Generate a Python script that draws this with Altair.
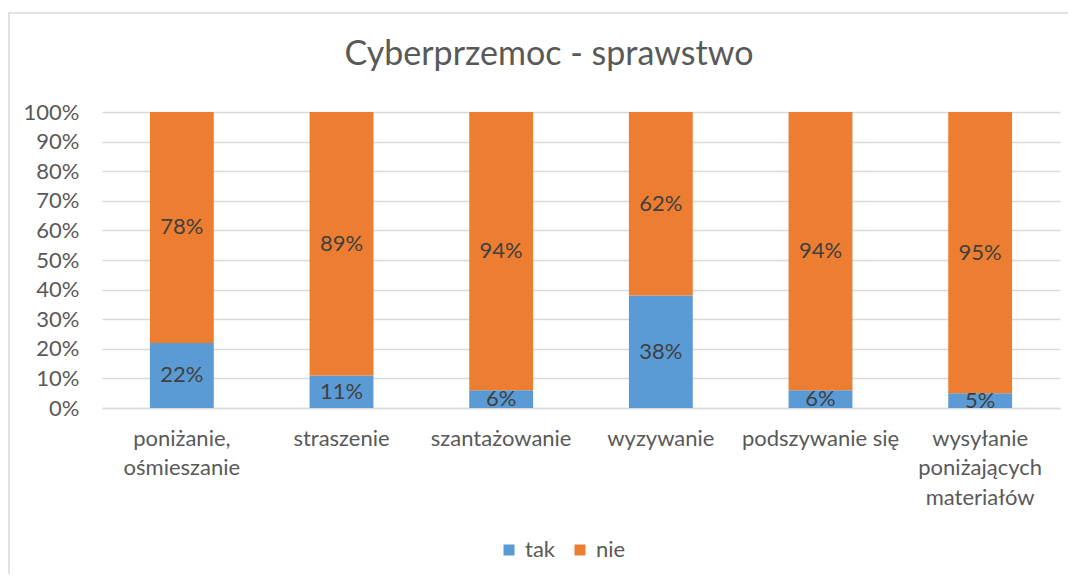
import altair as alt
import pandas as pd

categories = [
    "poniżanie,\nośmieszanie",
    "straszenie",
    "szantażowanie",
    "wyzywanie",
    "podszywanie się",
    "wysyłanie\nponiżających\nmateriałów",
]
series = ["tak", "nie"]
tak_values = [22, 11, 6, 38, 6, 5]
nie_values = [78, 89, 94, 62, 94, 95]
y_ticks = [0, 0.1, 0.2, 0.3, 0.4, 0.5, 0.6, 0.7, 0.8, 0.9, 1.0]

rows = []
for i, c in enumerate(categories):
    rows.append({"cat": c, "series": "tak", "ord": 0, "value": tak_values[i]})
    rows.append({"cat": c, "series": "nie", "ord": 1, "value": nie_values[i]})
df = pd.DataFrame(rows)

FONT = "Lato"
GRAY = "#595959"
FS = 22

base = alt.Chart(df).transform_stack(
    stack="value", as_=["y0", "y1"], groupby=["cat"],
    sort=[alt.SortField("ord", order="ascending")], offset="normalize"
).transform_calculate(
    mid="(datum.y0 + datum.y1) / 2",
    label="datum.value + '%'"
)

xscale = alt.Scale(paddingInner=0.6, paddingOuter=0.3)
xaxis = alt.Axis(
    labelAngle=0, labelExpr="split(datum.label, '\\n')",
    labelFontSize=FS, labelColor=GRAY, labelFont=FONT,
    labelPadding=20, labelLineHeight=29.5, labelBaseline="top",
    ticks=False, domain=True, domainColor="#D9D9D9", domainWidth=1.5,
    grid=False, labelLimit=300,
)
yscale = alt.Scale(domain=[0, 1], nice=False)
yaxis = alt.Axis(
    values=y_ticks, format=".0%", labelFontSize=FS, labelColor=GRAY,
    labelFont=FONT, labelPadding=23, ticks=False, domain=False,
    grid=True, gridColor="#D9D9D9", gridWidth=1.5, labelOverlap=False,
)

bars = base.mark_bar().encode(
    x=alt.X("cat:N", sort=categories, title=None, scale=xscale, axis=xaxis),
    y=alt.Y("y0:Q", scale=yscale, title=None, axis=yaxis),
    y2="y1:Q",
    color=alt.Color(
        "series:N",
        scale=alt.Scale(domain=series, range=["#5B9BD5", "#ED7D31"]),
        legend=alt.Legend(
            title=None, orient="none", direction="horizontal",
            legendX=396, legendY=427, symbolType="square", symbolSize=121,
            symbolStrokeWidth=0, labelFontSize=FS, labelColor=GRAY,
            labelFont=FONT, labelOffset=5, columnPadding=14,
        ),
    ),
)

texts = base.mark_text(fontSize=FS, color="#404040", font=FONT, baseline="middle").encode(
    x=alt.X("cat:N", sort=categories, title=None, scale=xscale, axis=xaxis),
    y=alt.Y("mid:Q", scale=yscale, title=None, axis=yaxis),
    text="label:N",
)

border = alt.Chart(pd.DataFrame({"a": [0]})).mark_rect(
    fill=None, stroke="#D9D9D9", strokeWidth=1.5
).encode(
    x=alt.value(-93), x2=alt.value(1100), y=alt.value(-99), y2=alt.value(600)
)

chart = alt.layer(border, bars, texts).properties(
    width=958, height=296,
    title=alt.TitleParams(
        "Cyberprzemoc - sprawstwo", fontSize=34, font=FONT, color=GRAY,
        fontWeight="normal", anchor="middle", dx=-32, offset=0, dy=60,
    ),
    autosize=alt.AutoSizeParams(type="none"),
    padding={"left": 94, "top": 104, "right": 8, "bottom": 166},
    background="white",
).configure_view(strokeWidth=0)

chart.save("out.html", embed_options={"renderer": "svg", "actions": False})
